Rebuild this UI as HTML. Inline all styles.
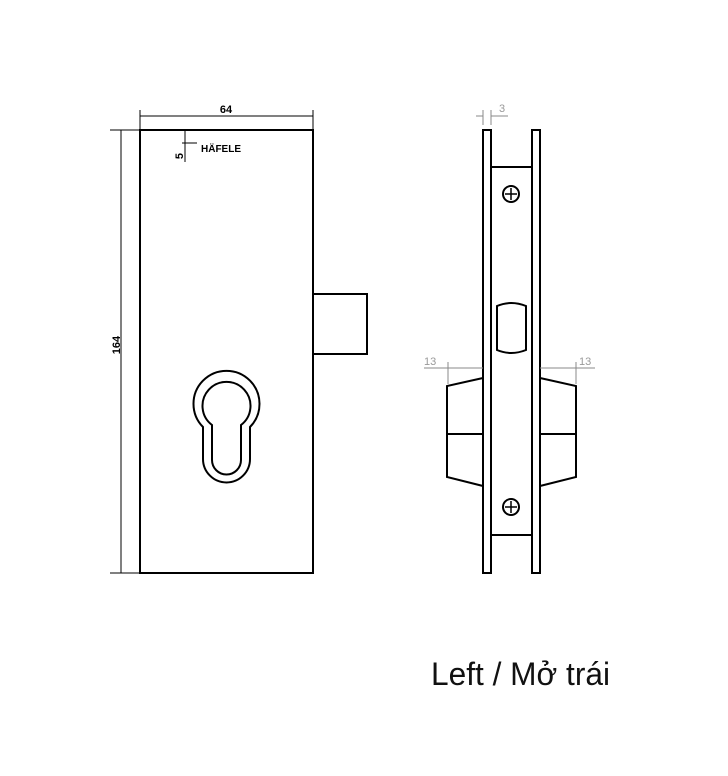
<!DOCTYPE html>
<html><head><meta charset="utf-8"><style>body{margin:0;background:#fff}svg{display:block}</style></head><body>
<svg width="728" height="776" viewBox="0 0 728 776" xmlns="http://www.w3.org/2000/svg" font-family="Liberation Sans, sans-serif">
<g fill="none" stroke="#000" stroke-width="2">
<rect x="140" y="130" width="173" height="443"/>
<rect x="313" y="294" width="54" height="60"/>
</g>
<g stroke="#000" stroke-width="1" fill="none">
<line x1="140" y1="116" x2="313" y2="116"/><line x1="140" y1="110" x2="140" y2="130"/><line x1="313" y1="110" x2="313" y2="130"/>
<line x1="121" y1="130" x2="121" y2="573"/><line x1="110" y1="130" x2="140" y2="130"/><line x1="110" y1="573" x2="140" y2="573"/>
<line x1="185" y1="130" x2="185" y2="162"/><line x1="182" y1="143" x2="197" y2="143"/>
</g>
<text x="226" y="113" font-size="11" text-anchor="middle" font-weight="bold">64</text>
<text x="120" y="345" font-size="11" text-anchor="middle" font-weight="bold" transform="rotate(-90 120 345)">164</text>
<text x="183" y="156" font-size="11" text-anchor="middle" font-weight="bold" transform="rotate(-90 183 156)">5</text>
<text x="201" y="152" font-size="10" font-weight="bold">HÄFELE</text>
<g fill="none" stroke="#000" stroke-width="2">
<path d="M203 427 A33 33 0 1 1 250 427 L250 459 A23.5 23.5 0 0 1 203 459 Z"/>
<path d="M212 425 A24 24 0 1 1 241 425 L241 460 A14.5 14.5 0 0 1 212 460 Z"/>
</g>
<g fill="none" stroke="#000" stroke-width="2">
<rect x="483" y="130" width="8" height="443"/>
<rect x="532" y="130" width="8" height="443"/>
<line x1="491" y1="167" x2="532" y2="167"/>
<line x1="491" y1="535" x2="532" y2="535"/>
<path d="M497 306 Q511 300 526 306 L526 350 Q511 356 497 350 Z"/>
<path d="M483 378 L447 386 L447 477 L483 486"/>
<line x1="447" y1="434" x2="483" y2="434"/>
<path d="M540 378 L576 386 L576 477 L540 486"/>
<line x1="540" y1="434" x2="576" y2="434"/>
<circle cx="511" cy="194" r="8"/><circle cx="511" cy="507" r="8"/>
</g>
<g stroke="#000" stroke-width="1.5">
<line x1="511" y1="188" x2="511" y2="200"/><line x1="505" y1="194" x2="517" y2="194"/>
<line x1="511" y1="501" x2="511" y2="513"/><line x1="505" y1="507" x2="517" y2="507"/>
</g>
<g stroke="#888" stroke-width="1" fill="none">
<line x1="476" y1="116" x2="483" y2="116"/><line x1="491" y1="116" x2="508" y2="116"/>
<line x1="483" y1="110" x2="483" y2="125"/><line x1="491" y1="110" x2="491" y2="125"/>
<line x1="424" y1="368" x2="448" y2="368"/><line x1="448" y1="368" x2="483" y2="368"/><line x1="448" y1="362" x2="448" y2="384"/>
<line x1="540" y1="368" x2="576" y2="368"/><line x1="576" y1="368" x2="595" y2="368"/><line x1="576" y1="362" x2="576" y2="384"/>
</g>
<g fill="#999" font-size="11">
<text x="499" y="112">3</text>
<text x="424" y="365">13</text>
<text x="579" y="365">13</text>
</g>
<text x="431" y="685" font-size="32" fill="#111" textLength="179" lengthAdjust="spacingAndGlyphs">Left / Mở trái</text>
</svg>
</body></html>
